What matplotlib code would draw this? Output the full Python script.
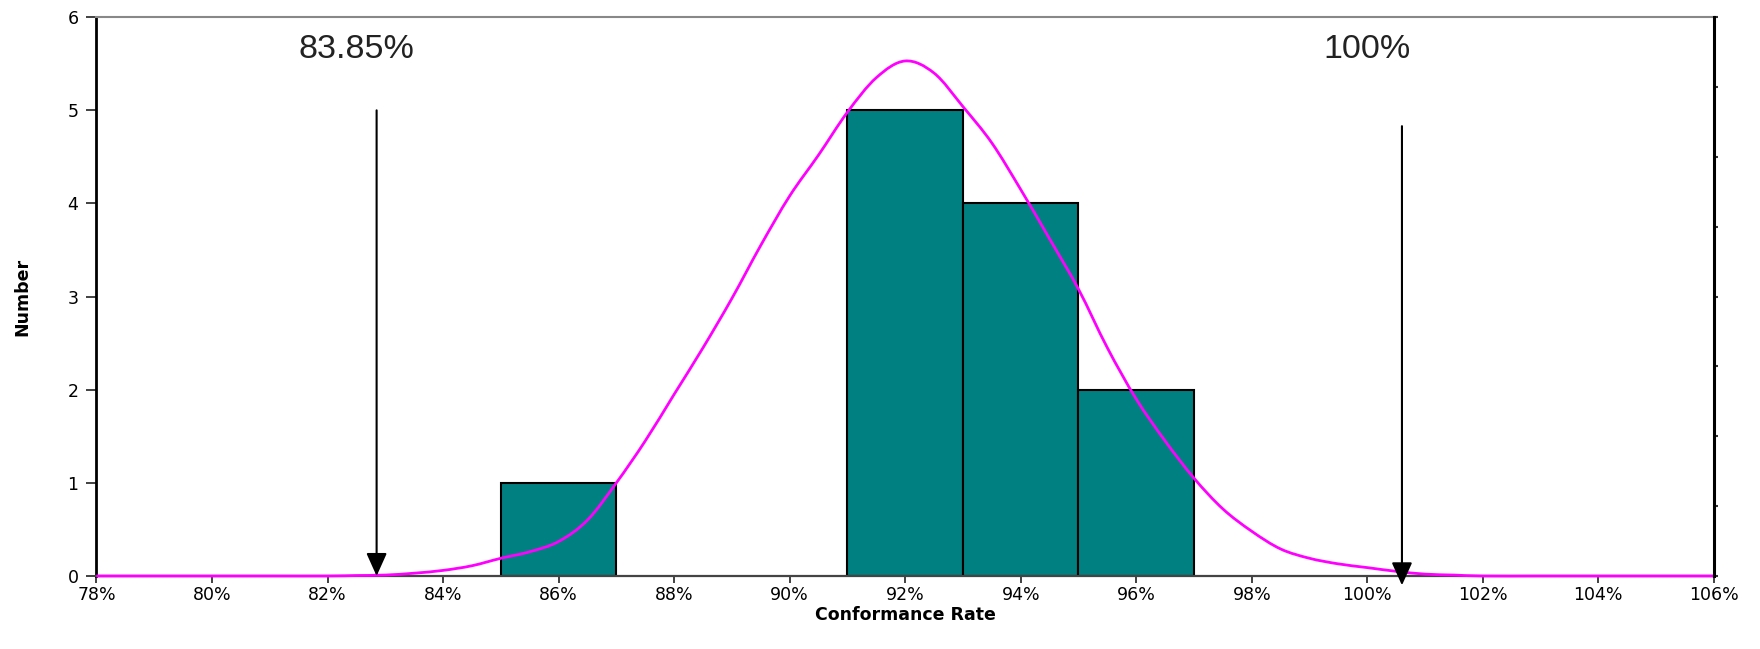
import matplotlib.pyplot as plt
import numpy as np
from matplotlib.path import Path
from matplotlib.patches import PathPatch
from matplotlib.ticker import FuncFormatter

# histogram bins (left edge, %) and counts
bin_left = [85, 91, 93, 95]
counts = [1, 5, 4, 2]
bin_width = 2

# fitted curve
curve_x = [78, 79, 80, 81, 82, 82.5, 83, 83.5, 84, 84.5, 85, 85.5, 86, 86.5, 87, 87.5,
           88, 88.5, 89, 89.5, 90, 90.5, 91, 91.5, 92, 92.5, 93, 93.5, 94, 94.5, 95,
           95.5, 96, 96.5, 97, 97.5, 98, 98.5, 99, 99.5, 100, 100.5, 101, 101.5, 102,
           103, 104, 105, 106]
curve_y = [0, 0, 0, 0, 0, 0.005, 0.01, 0.03, 0.06, 0.11, 0.19, 0.26, 0.37, 0.6, 1.0, 1.45,
           1.95, 2.45, 2.98, 3.55, 4.08, 4.52, 4.98, 5.35, 5.53, 5.4, 5.04, 4.65, 4.15, 3.62, 3.08,
           2.45, 1.9, 1.45, 1.05, 0.72, 0.48, 0.29, 0.19, 0.13, 0.09, 0.05, 0.02, 0.01, 0,
           0, 0, 0, 0]

# limit arrows
arrow_x = [82.85, 100.6]
arrow_top = [5.0, 4.83]
arrow_bottom = [0.0, -0.1]
arrow_labels = ['83.85%', '100%']
label_x = [82.5, 100.0]

fig = plt.figure(figsize=(17.6, 6.49), dpi=100)
ax = fig.add_axes([0.0548, 0.1125, 0.9190, 0.861])

ax.bar(bin_left, counts, width=bin_width, align='edge', color='#008080',
       edgecolor='black', linewidth=1.5, zorder=2)

# smoothed line through the points (like a spreadsheet "smoothed line")
pts = np.column_stack([curve_x, curve_y])
verts = [pts[0]]
codes = [Path.MOVETO]
for i in range(len(pts) - 1):
    p0 = pts[max(i - 1, 0)]
    p1 = pts[i]
    p2 = pts[i + 1]
    p3 = pts[min(i + 2, len(pts) - 1)]
    verts += [p1 + (p2 - p0) / 6, p2 - (p3 - p1) / 6, p2]
    codes += [Path.CURVE4] * 3
ax.add_patch(PathPatch(Path(verts, codes), fill=False, edgecolor='#FF00FF',
                       linewidth=2, zorder=3, clip_on=False))

for xa, yt, yb, lab, lx in zip(arrow_x, arrow_top, arrow_bottom, arrow_labels, label_x):
    ax.annotate('', xy=(xa, yb), xytext=(xa, yt),
                arrowprops=dict(arrowstyle='-|>,head_length=1.0,head_width=0.45',
                                mutation_scale=14, color='black', lw=1.5,
                                shrinkA=0, shrinkB=0),
                annotation_clip=False, zorder=4)
    ax.text(lx, 5.65, lab, fontsize=24.5, family='Liberation Sans',
            ha='center', va='center', color='#222222')

ax.set_xlim(78, 106)
ax.set_ylim(0, 6)
ax.set_xticks(range(78, 107, 2))
ax.set_yticks(range(0, 7))
ax.xaxis.set_major_formatter(FuncFormatter(lambda v, p: '%d%%' % v))
ax.tick_params(axis='both', labelsize=12.5, width=1.3, color='#333333')
ax.tick_params(axis='x', length=5, pad=2)
ax.tick_params(axis='y', length=7, pad=6)

ax.set_xlabel('Conformance Rate', fontsize=12.5, fontweight='bold', labelpad=2)
ax.set_ylabel('Number', fontsize=12.5, fontweight='bold', labelpad=26)

ax.spines['left'].set_linewidth(2)
ax.spines['left'].set_color('black')
ax.spines['top'].set_linewidth(1.5)
ax.spines['top'].set_color('#888888')
ax.spines['bottom'].set_linewidth(1.6)
ax.spines['bottom'].set_color('#444444')
ax.spines['right'].set_visible(False)

# right axis: ticks only, no labels
ax2 = ax.twinx()
ax2.set_ylim(0, 8)
ax2.set_yticks(range(0, 9))
ax2.set_yticklabels([])
ax2.tick_params(axis='y', length=3, width=1.5, color='#333333')
ax2.spines['right'].set_linewidth(2.2)
ax2.spines['right'].set_color('black')
for s in ['left', 'top', 'bottom']:
    ax2.spines[s].set_visible(False)

fig.savefig('out.png', dpi=100)
